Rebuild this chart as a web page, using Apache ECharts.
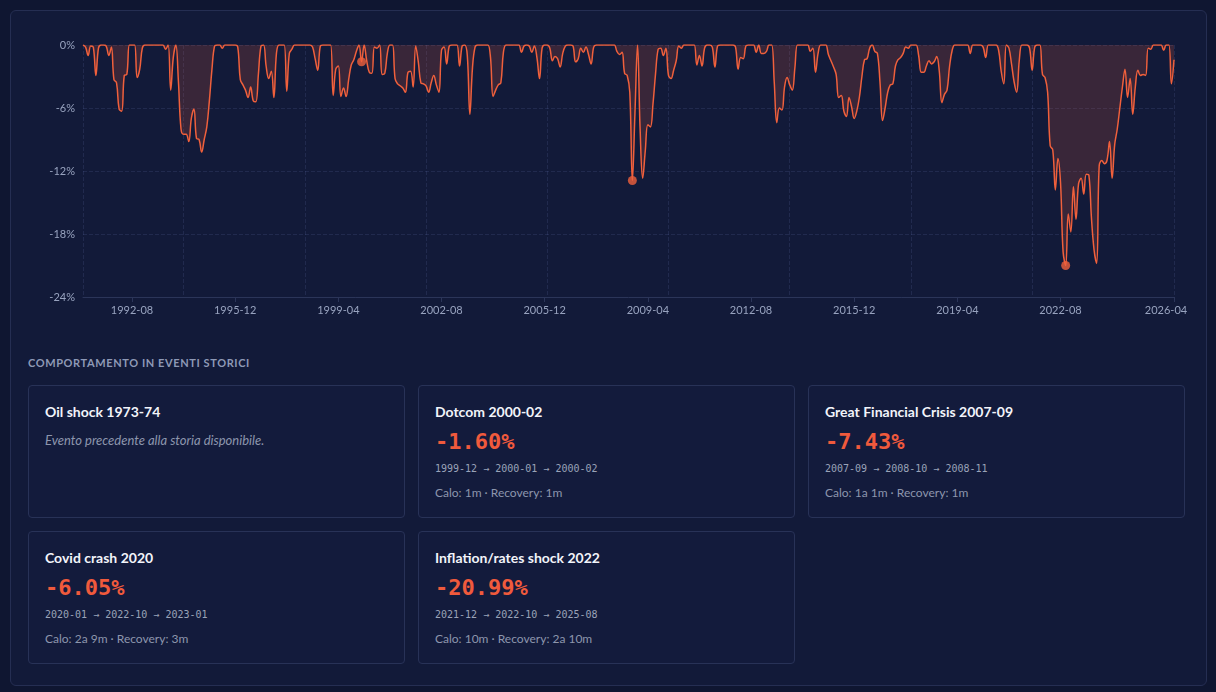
<!DOCTYPE html>
<html>
<head>
<meta charset="utf-8">
<script src="https://cdn.jsdelivr.net/npm/echarts@6/dist/echarts.min.js"></script>
<style>
  html, body { margin: 0; padding: 0; }
  body {
    width: 1216px; height: 692px; overflow: hidden;
    background: #0f1631;
    font-family: Lato, "Noto Sans", sans-serif;
  }
  .panel {
    position: absolute; left: 10px; top: 10px;
    width: 1195px; height: 674px;
    background: #121a39;
    border: 1px solid #252e52;
    border-radius: 6px;
  }
  #chart { position: absolute; left: 0; top: 0; width: 1195px; height: 330px; }
  .section-title {
    position: absolute; left: 17px; top: 345px;
    font-size: 11px; font-weight: 700; letter-spacing: 0.6px;
    color: #8e99b6; text-transform: uppercase;
  }
  .cards {
    position: absolute; left: 17px; top: 374px;
    display: grid; grid-template-columns: 377px 377px 377px;
    column-gap: 13px; row-gap: 13px;
  }
  .card {
    box-sizing: border-box; height: 133px;
    background: #131b3c; border: 1px solid #283257; border-radius: 4px;
    padding: 17px 16px 0 16px;
  }
  .card-title { font-size: 14px; font-weight: 700; color: #f2f4fa; line-height: 18px; }
  .card-note { margin-top: 10px; font-size: 13px; font-style: italic; color: #8d96ad; line-height: 18px; }
  .card-value {
    margin-top: 8px; font-family: "DejaVu Sans Mono", monospace;
    font-size: 22px; font-weight: 700; color: #f05a3c; line-height: 26px;
  }
  .card-dates {
    margin-top: 7px; font-family: "DejaVu Sans Mono", monospace;
    font-size: 10px; color: #9aa3b8; line-height: 14px;
  }
  .card-stats { margin-top: 9px; font-size: 12px; color: #8d96ad; line-height: 16px; }
</style>
</head>
<body>
<div class="panel">
  <div id="chart"></div>
  <div class="section-title">Comportamento in eventi storici</div>
  <div class="cards" id="cards"></div>
</div>
<script>
// monthly drawdown (%), one row per year, starting 1991-01
const drawdown = [
  0, -0.2, -1.0, -0.1, -0.2, -2.9, -0.3, 0, 0, -0.1, -1.0, -0.2,          // 1991
  -3.3, -3.6, -6.1, -6.3, -2.9, -2.8, 0, 0, 0, -3.1, -2.3, -0.3,          // 1992
  0, 0, 0, 0, 0, 0, 0, 0, -0.4, 0, -4.3, -1.2,                            // 1993
  0, -3.5, -8.0, -8.5, -8.5, -9.2, -7.0, -6.1, -8.9, -9.0, -10.2, -9.0,   // 1994
  -7.8, -5.3, -2.3, -0.1, 0, 0, -0.3, 0, 0, 0, 0, 0,                      // 1995
  -0.2, -3.3, -3.8, -4.3, -5.0, -4.0, -5.3, -5.4, -2.8, -0.1, 0, -2.0,    // 1996
  -3.2, -2.5, -5.0, -0.8, 0, 0, 0, -4.4, -0.8, -0.4, 0, 0,                // 1997
  0, 0, 0, 0, 0, -0.2, -1.3, -2.4, -0.1, 0, 0, 0,                         // 1998
  0, -4.8, -2.3, -2.0, -4.9, -4.1, -4.9, -3.3, -1.9, -1.4, -0.6, 0,       // 1999
  -1.6, 0, -1.5, -2.6, -2.7, -0.2, -0.3, 0, -2.8, -2.7, -0.8, 0,          // 2000
  0, -3.2, -3.7, -3.9, -4.1, -4.5, -2.6, -2.5, -4.0, -0.1, -1.6, -3.6,    // 2001
  -3.7, -3.9, -4.5, -3.6, -2.9, -3.8, -4.5, -0.5, -0.2, -1.8, -0.1, 0,    // 2002
  0, 0, -2.0, -0.1, 0, -1.0, -6.6, -2.2, -0.2, 0, 0, 0,                   // 2003
  0, 0, -1.2, -4.9, -4.3, -3.8, -3.6, -0.7, 0, 0, 0, 0,                   // 2004
  0, 0, -0.7, -0.1, 0, -0.1, -0.7, -0.1, -1.2, -3.2, -0.3, 0,             // 2005
  0, -0.3, -1.5, -1.1, -1.3, -2.1, -0.8, -0.1, 0, 0, -0.1, -1.6,          // 2006
  -1.3, -0.3, -0.7, -0.2, -0.9, -1.8, -0.2, 0, 0, 0, 0, 0,                // 2007
  0, 0, 0, -0.6, -0.9, -0.7, -2.7, -2.9, -4.5, -12.9, -6.5, 0,            // 2008
  -8.0, -12.7, -10.1, -7.6, -7.8, -5.6, -2.7, -0.4, -0.3, -1.0, -0.3, -2.9, // 2009
  -3.2, -2.4, -1.5, -0.1, -0.3, 0, 0, 0, 0, 0, -1.9, -1.0,                // 2010
  -2.0, -0.3, 0, 0, -0.2, -2.1, -0.1, 0, 0, 0, 0, 0,                      // 2011
  0, -0.2, -2.3, -1.2, -1.3, -0.1, 0, 0, 0, -0.7, 0, -0.8,                // 2012
  -0.8, -0.6, 0, 0, -3.5, -7.4, -6.0, -6.2, -4.0, -3.1, -3.8, -4.3,       // 2013
  -2.2, 0, 0, 0, 0, 0, -0.6, -0.3, -2.6, -0.8, 0, 0,                      // 2014
  0, -0.9, -1.5, -2.1, -2.8, -5.0, -4.8, -6.3, -6.8, -5.0, -5.9, -7.0,    // 2015
  -6.3, -5.0, -3.0, -1.4, -1.3, -0.3, 0, -0.6, -0.8, -3.5, -7.2, -6.0,    // 2016
  -4.5, -3.8, -3.7, -2.0, -1.4, -1.2, -0.8, -0.2, -0.3, 0, 0, 0,          // 2017
  -1.0, -2.6, -2.6, -2.0, -1.5, -1.8, -1.6, -1.1, -2.5, -5.5, -4.7, -4.3, // 2018
  -2.0, -0.5, 0, 0, 0, 0, 0, 0, -0.8, 0, 0, 0,                            // 2019
  0, -0.2, -1.2, 0, 0, 0, 0, -0.5, -2.5, -3.7, 0, -0.3,                   // 2020
  -1.8, -3.5, -4.5, -1.5, 0, 0, 0, -0.3, -2.4, -0.2, 0, 0,                // 2021
  -2.8, -3.1, -4.5, -9.6, -10.0, -13.8, -10.8, -13.1, -19.7, -21.0, -16.1, -17.8, // 2022
  -13.5, -16.6, -13.2, -12.7, -14.2, -12.3, -12.4, -16.5, -19.5, -20.8, -11.5, -11.0, // 2023
  -11.3, -11.0, -9.2, -12.7, -9.5, -8.0, -6.0, -4.0, -2.3, -5.0, -3.2, -6.6, // 2024
  -4.0, -2.4, -2.9, -2.8, -2.9, -0.3, -0.4, 0, 0, 0, 0, -0.5,             // 2025
  0, 0, -3.7, -1.4                                                        // 2026
];

const startYear = 1991;
const months = [];
for (let i = 0; i < drawdown.length; i++) {
  const y = startYear + Math.floor(i / 12);
  const m = (i % 12) + 1;
  months.push(y + '-' + (m < 10 ? '0' + m : m));
}

// event troughs marked on the chart
const markerDates = ['2000-01', '2008-10', '2022-10'];
const markerValues = [-1.6, -12.9, -21.0];

const yTicks = [0, -6, -12, -18, -24];

// event cards
const eventNames = ['Oil shock 1973-74', 'Dotcom 2000-02', 'Great Financial Crisis 2007-09', 'Covid crash 2020', 'Inflation/rates shock 2022'];
const eventDepth = [null, '-1.60%', '-7.43%', '-6.05%', '-20.99%'];
const eventPeak = [null, '1999-12', '2007-09', '2020-01', '2021-12'];
const eventTrough = [null, '2000-01', '2008-10', '2022-10', '2022-10'];
const eventRecovered = [null, '2000-02', '2008-11', '2023-01', '2025-08'];
const eventFall = [null, '1m', '1a 1m', '2a 9m', '10m'];
const eventRecovery = [null, '1m', '1m', '3m', '2a 10m'];

const cardsEl = document.getElementById('cards');
eventNames.forEach(function (name, i) {
  let html = '<div class="card"><div class="card-title">' + name + '</div>';
  if (eventDepth[i] === null) {
    html += '<div class="card-note">Evento precedente alla storia disponibile.</div>';
  } else {
    html += '<div class="card-value">' + eventDepth[i] + '</div>';
    html += '<div class="card-dates">' + eventPeak[i] + ' \u2192 ' + eventTrough[i] + ' \u2192 ' + eventRecovered[i] + '</div>';
    html += '<div class="card-stats">Calo: ' + eventFall[i] + ' \u00b7 Recovery: ' + eventRecovery[i] + '</div>';
  }
  html += '</div>';
  cardsEl.insertAdjacentHTML('beforeend', html);
});

const lineColor = '#f0603c';
const labelColor = '#98a3bf';
const gridColor = 'rgba(110, 130, 190, 0.16)';
const last = months.length - 1;
// labelled months: every 40th from 1992-08, last one moved to the final month
const isLabelled = function (i) { return (i % 40 === 19 && i < last - 8) || i === last; };

const chart = echarts.init(document.getElementById('chart'));
chart.setOption({
  backgroundColor: 'transparent',
  animation: false,
  grid: { left: 72, right: 32, top: 34, height: 252 },
  xAxis: {
    type: 'category',
    data: months,
    boundaryGap: false,
    axisLine: { onZero: false, lineStyle: { color: '#2b3559' } },
    axisTick: { interval: isLabelled, length: 5, lineStyle: { color: '#2b3559' } },
    axisLabel: {
      interval: isLabelled,
      color: labelColor, fontSize: 11, fontFamily: 'Lato', margin: 8,
      formatter: function (v, i) { return i === last ? '{end|' + v + '}' : v; },
      rich: { end: { color: labelColor, fontSize: 11, fontFamily: 'Lato', padding: [0, 16, 0, 0] } }
    },
    splitLine: {
      show: true,
      interval: function (i) { return i === 0 || i === last || (i >= 39 && i <= 368 && (i - 39) % 47 === 0); },
      lineStyle: { color: gridColor, type: 'dashed' }
    }
  },
  yAxis: {
    type: 'value',
    min: yTicks[yTicks.length - 1],
    max: yTicks[0],
    interval: 6,
    axisLine: { show: false },
    axisTick: { show: false },
    axisLabel: { formatter: '{value}%', color: labelColor, fontSize: 11, fontFamily: 'Lato', margin: 8 },
    splitLine: { lineStyle: { color: gridColor, type: 'dashed' } }
  },
  series: [
    {
      type: 'line',
      data: drawdown,
      smooth: 0.4,
      showSymbol: false,
      lineStyle: { color: lineColor, width: 1.5 },
      areaStyle: { color: 'rgba(240, 96, 60, 0.26)' }
    },
    {
      type: 'scatter',
      data: markerDates.map(function (d, i) { return [d, markerValues[i]]; }),
      symbolSize: 9,
      itemStyle: { color: lineColor },
      z: 3
    }
  ]
});
</script>
</body>
</html>
